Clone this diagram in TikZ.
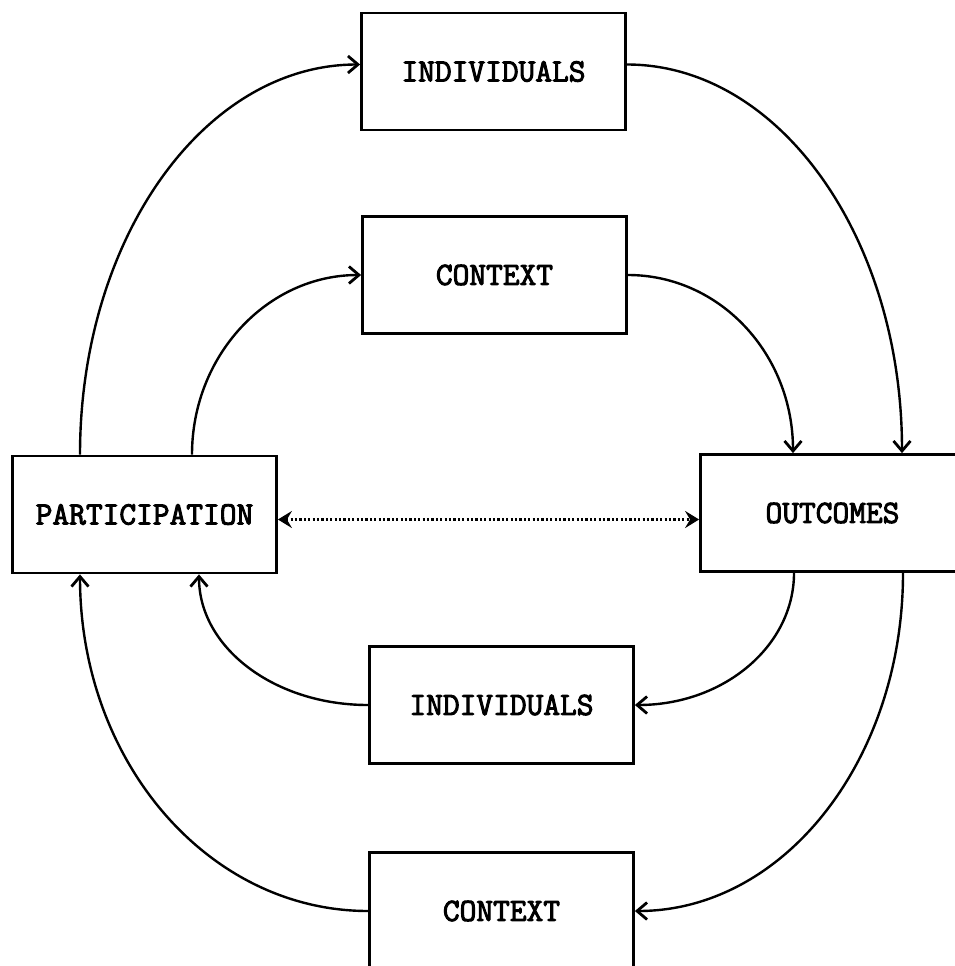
\documentclass[tikz,border=0pt]{standalone}
\usepackage{fontspec}
\setmonofont{Latin Modern Mono}[AutoFakeBold=3]
\usetikzlibrary{arrows.meta}
\tikzset{
  box/.style={draw, line width=2.8pt, minimum width=264pt, minimum height=117pt,
    inner sep=0pt, font=\ttfamily\bfseries\fontsize{32.5}{36}\selectfont},
  link/.style={line width=2.4pt, -{Straight Barb[length=10pt,width=17pt,line width=2.8pt]}},
  dotlink/.style={line width=2.4pt, dash pattern=on 2.2pt off 2.2pt,
    {Stealth[length=14pt,width=17pt,inset=5pt]}-{Stealth[length=14pt,width=17pt,inset=5pt]}}
}
\begin{document}
\begin{tikzpicture}[x=1pt,y=-1pt]
\useasboundingbox (0,0) rectangle (955,966);
\clip (0,0) rectangle (955,966);
\node[box] (indT) at (493.5,71.5) {INDIVIDUALS};
\node[box] (ctxT) at (494.5,275) {CONTEXT};
\node[box] (part) at (144.5,514.5) {PARTICIPATION};
\node[box] (out) at (832.5,513) {OUTCOMES};
\node[box] (indB) at (501.5,705) {INDIVIDUALS};
\node[box] (ctxB) at (501.5,911) {CONTEXT};
\draw[link] ([xshift=-64.5pt]part.north) .. controls +(0,-216) and +(-156,0) .. ([yshift=7pt]indT.west);
\draw[link] ([xshift=47.5pt]part.north) .. controls +(0,-99) and +(-94,0) .. (ctxT.west);
\draw[link] ([yshift=7pt]indT.east) .. controls +(152,0) and +(0,-216) .. ([xshift=69.5pt]out.north);
\draw[link] (ctxT.east) .. controls +(92,0) and +(0,-99) .. ([xshift=-39.5pt]out.north);
\draw[link] ([xshift=-38.5pt]out.south) .. controls +(0,73) and +(89,0) .. (indB.east);
\draw[link] ([xshift=70.5pt]out.south) .. controls +(0,187) and +(149,0) .. (ctxB.east);
\draw[link] (indB.west) .. controls +(-94,0) and +(0,73) .. ([xshift=54.5pt]part.south);
\draw[link] (ctxB.west) .. controls +(-160,0) and +(0,187) .. ([xshift=-64.5pt]part.south);
\draw[dotlink] ([yshift=-5pt]part.east) -- ([yshift=-5pt]part.east -| out.west);
\end{tikzpicture}
\end{document}
